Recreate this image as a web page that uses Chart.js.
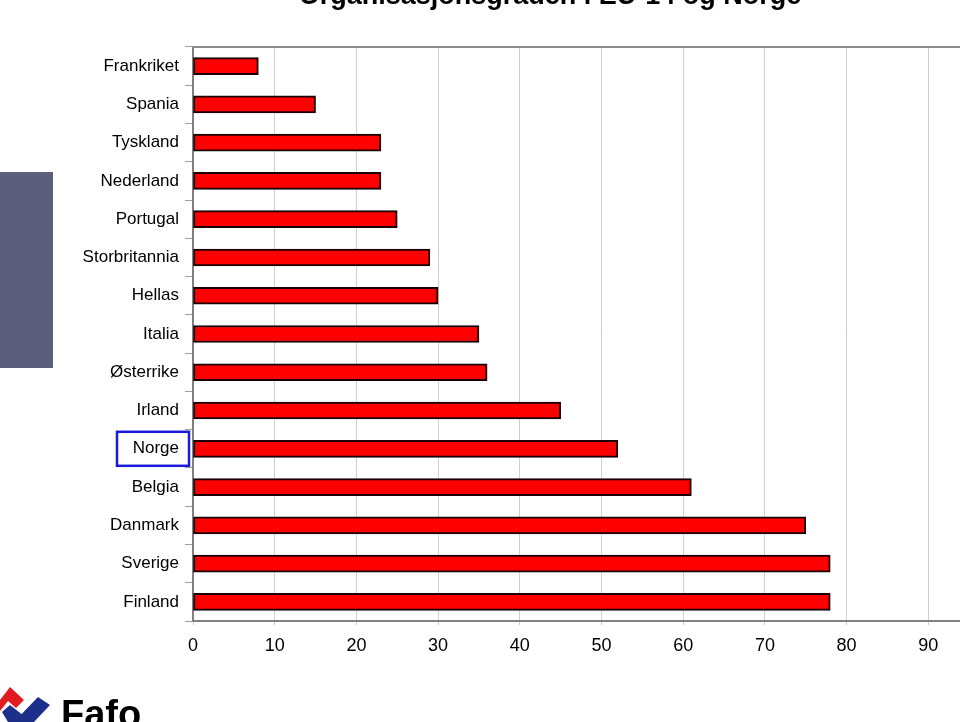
<!DOCTYPE html>
<html>
<head>
<meta charset="utf-8">
<script src="https://cdn.jsdelivr.net/npm/chart.js@4/dist/chart.umd.min.js"></script>
<style>
  html, body { margin: 0; padding: 0; background: #fff; overflow: hidden; }
  #wrap { width: 1035px; height: 722px; }
</style>
</head>
<body>
<div id="wrap"><canvas id="chart"></canvas></div>
<script>
const countries = ["Frankriket", "Spania", "Tyskland", "Nederland", "Portugal", "Storbritannia",
  "Hellas", "Italia", "Østerrike", "Irland", "Norge", "Belgia", "Danmark", "Sverige", "Finland"];
const density = [8, 15, 23, 23, 25, 29, 30, 35, 36, 45, 52, 61, 75, 78, 78];
const xTicks = [0, 10, 20, 30, 40, 50, 60, 70, 80, 90, 100];
const titleText = "Organisasjonsgraden i EU-14 og Norge";

const FONT = "'Liberation Sans', Arial, sans-serif";

// title (cut off at top), side block, Norge frame, logo, top frame line
const decor = {
  id: 'decor',
  afterDraw(chart) {
    const ctx = chart.ctx;
    const area = chart.chartArea;
    ctx.save();

    // top frame line
    ctx.strokeStyle = '#8c8c8c';
    ctx.lineWidth = 2;
    ctx.beginPath();
    ctx.moveTo(area.left, area.top);
    ctx.lineTo(area.right, area.top);
    ctx.stroke();

    // title
    ctx.fillStyle = '#000';
    ctx.font = 'bold 27px ' + FONT;
    ctx.textAlign = 'center';
    ctx.textBaseline = 'alphabetic';
    ctx.fillText(titleText, 550, 4);

    // side block
    ctx.fillStyle = '#5b5f7c';
    ctx.fillRect(0, 172, 53, 196);

    // box round Norge label
    const y = chart.scales.y;
    const ny = y.getPixelForValue(countries.indexOf("Norge"));
    ctx.strokeStyle = '#1a1adc';
    ctx.lineWidth = 2.5;
    ctx.strokeRect(117, ny - 17, 72, 34);

    // Fafo logo
    ctx.fillStyle = '#e21b23';
    ctx.beginPath();
    ctx.moveTo(0, 700); ctx.lineTo(10, 687); ctx.lineTo(24, 700); ctx.lineTo(16, 708);
    ctx.lineTo(8, 701); ctx.lineTo(0, 711); ctx.closePath();
    ctx.fill();
    ctx.fillStyle = '#1c2f8a';
    ctx.beginPath();
    ctx.moveTo(14, 722); ctx.lineTo(38, 697); ctx.lineTo(50, 705); ctx.lineTo(34, 722);
    ctx.closePath();
    ctx.fill();
    ctx.beginPath();
    ctx.moveTo(2, 712); ctx.lineTo(10, 705); ctx.lineTo(24, 716); ctx.lineTo(18, 722);
    ctx.lineTo(8, 722); ctx.closePath();
    ctx.fill();
    ctx.fillStyle = '#000';
    ctx.font = 'bold 38px ' + FONT;
    ctx.textAlign = 'left';
    ctx.fillText('Fafo', 61, 727);

    ctx.restore();
  }
};

new Chart(document.getElementById('chart'), {
  type: 'bar',
  data: {
    labels: countries,
    datasets: [{
      label: 'Organisasjonsgrad',
      data: density,
      backgroundColor: '#ff0000',
      borderColor: '#1a0000',
      borderWidth: 2,
      borderSkipped: false,
      barThickness: 17
    }]
  },
  options: {
    indexAxis: 'y',
    responsive: true,
    maintainAspectRatio: false,
    animation: false,
    layout: { padding: { left: 0, right: 11, top: 47, bottom: 0 } },
    plugins: {
      legend: { display: false },
      tooltip: { enabled: false }
    },
    scales: {
      x: {
        min: 0,
        max: 100,
        afterBuildTicks: s => { s.ticks = xTicks.map(v => ({ value: v })); },
        afterFit: s => { s.height = 101; },
        grid: { color: '#cfcfcf', lineWidth: 1, tickLength: 4 },
        border: { color: '#808080', width: 2 },
        ticks: { color: '#000', font: { family: FONT, size: 18 }, padding: 10, maxRotation: 0 }
      },
      y: {
        afterFit: s => { s.width = 193; },
        grid: { drawOnChartArea: false, tickLength: 8, color: '#a0a0a0' },
        border: { color: '#808080', width: 2 },
        ticks: { color: '#000', font: { family: FONT, size: 17 }, padding: 6 }
      }
    }
  },
  plugins: [decor]
});
</script>
</body>
</html>
